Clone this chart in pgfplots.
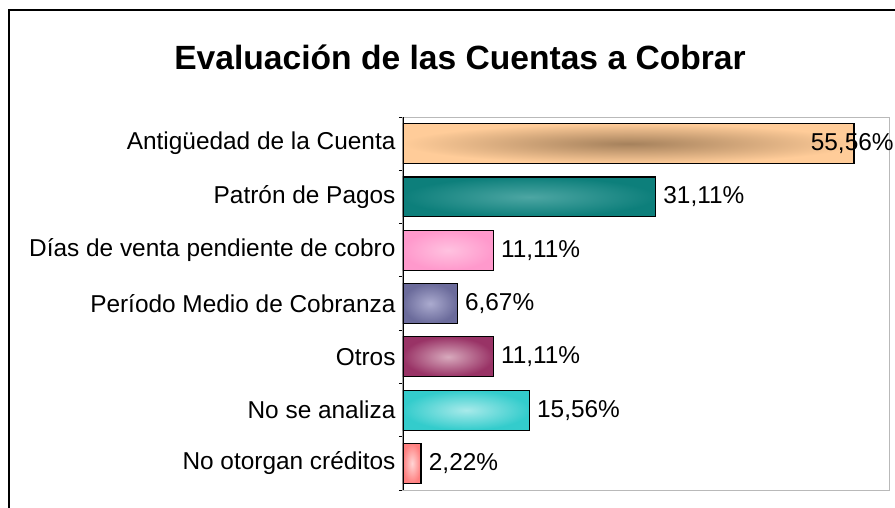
\documentclass[border=0pt]{standalone}
\usepackage{pgfplots}
\pgfplotsset{compat=1.18}
\usepackage{fontspec}
\setmainfont{Liberation Sans}
\definecolor{eA}{HTML}{FFCC99}\definecolor{cA}{HTML}{A5815C}
\definecolor{eB}{HTML}{0D7F7B}\definecolor{cB}{HTML}{4DA6A3}
\definecolor{eC}{HTML}{FF99CC}\definecolor{cC}{HTML}{FFC2E0}
\definecolor{eD}{HTML}{6B6B9B}\definecolor{cD}{HTML}{ABABCF}
\definecolor{eE}{HTML}{993366}\definecolor{cE}{HTML}{D8AABD}
\definecolor{eF}{HTML}{33CCCC}\definecolor{cF}{HTML}{A8EAEA}
\definecolor{eG}{HTML}{FF8080}\definecolor{cG}{HTML}{FFD5D5}
\begin{document}
\begin{tikzpicture}
\useasboundingbox (0,0) rectangle (895pt,-508pt);
\draw[line width=2.2pt] (8.8pt,-520pt) -- (8.8pt,-10pt) -- (910pt,-10pt);
\node[font=\fontsize{33.6}{38}\selectfont\bfseries] at (460pt,-57pt) {Evaluación de las Cuentas a Cobrar};
\begin{axis}[
  scale only axis,
  width=487pt, height=373pt,
  anchor=south west, at={(403pt,-490pt)},
  xbar,
  xmin=0, xmax=60,
  ymin=-0.5, ymax=6.5,
  y dir=reverse,
  bar width=0.75,
  xtick=\empty,
  ytick={0,1,2,3,4,5,6},
  ytick pos=left,
  yticklabels={Antigüedad de la Cuenta, Patrón de Pagos, Días de venta pendiente de cobro, Período Medio de Cobranza, Otros, No se analiza, No otorgan créditos},
  major tick length=0pt,
  minor ytick={-0.5,0.5,1.5,2.5,3.5,4.5,5.5,6.5},
  minor tick length=4pt,
  tick align=outside,
  tick style={black, line width=1pt},
  yticklabel style={font=\fontsize{24.4}{28}\selectfont, xshift=-4pt},
  axis line style={gray!55, line width=1pt},
  point meta=x,
  nodes near coords={\pgfmathprintnumber{\pgfplotspointmeta}\%},
  nodes near coords align={horizontal},
  every node near coord/.append style={font=\fontsize{24.4}{28}\selectfont, text=black, xshift=4pt},
  /pgf/number format/.cd, use comma, fixed, fixed zerofill, precision=2, assume math mode=true,
]
\addplot[bar shift=0pt, draw=black, line width=1.1pt, inner color=cA, outer color=eA,
  every node near coord/.append style={xshift=-51pt}] coordinates {(55.56,0)};
\addplot[bar shift=0pt, draw=black, line width=1.1pt, inner color=cB, outer color=eB] coordinates {(31.11,1)};
\addplot[bar shift=0pt, draw=black, line width=1.1pt, inner color=cC, outer color=eC] coordinates {(11.11,2)};
\addplot[bar shift=0pt, draw=black, line width=1.1pt, inner color=cD, outer color=eD] coordinates {(6.67,3)};
\addplot[bar shift=0pt, draw=black, line width=1.1pt, inner color=cE, outer color=eE] coordinates {(11.11,4)};
\addplot[bar shift=0pt, draw=black, line width=1.1pt, inner color=cF, outer color=eF] coordinates {(15.56,5)};
\addplot[bar shift=0pt, draw=black, line width=1.1pt, inner color=cG, outer color=eG] coordinates {(2.22,6)};
\draw[black, line width=1.2pt] (rel axis cs:0,0) -- (rel axis cs:0,1);
\end{axis}
\end{tikzpicture}
\end{document}
